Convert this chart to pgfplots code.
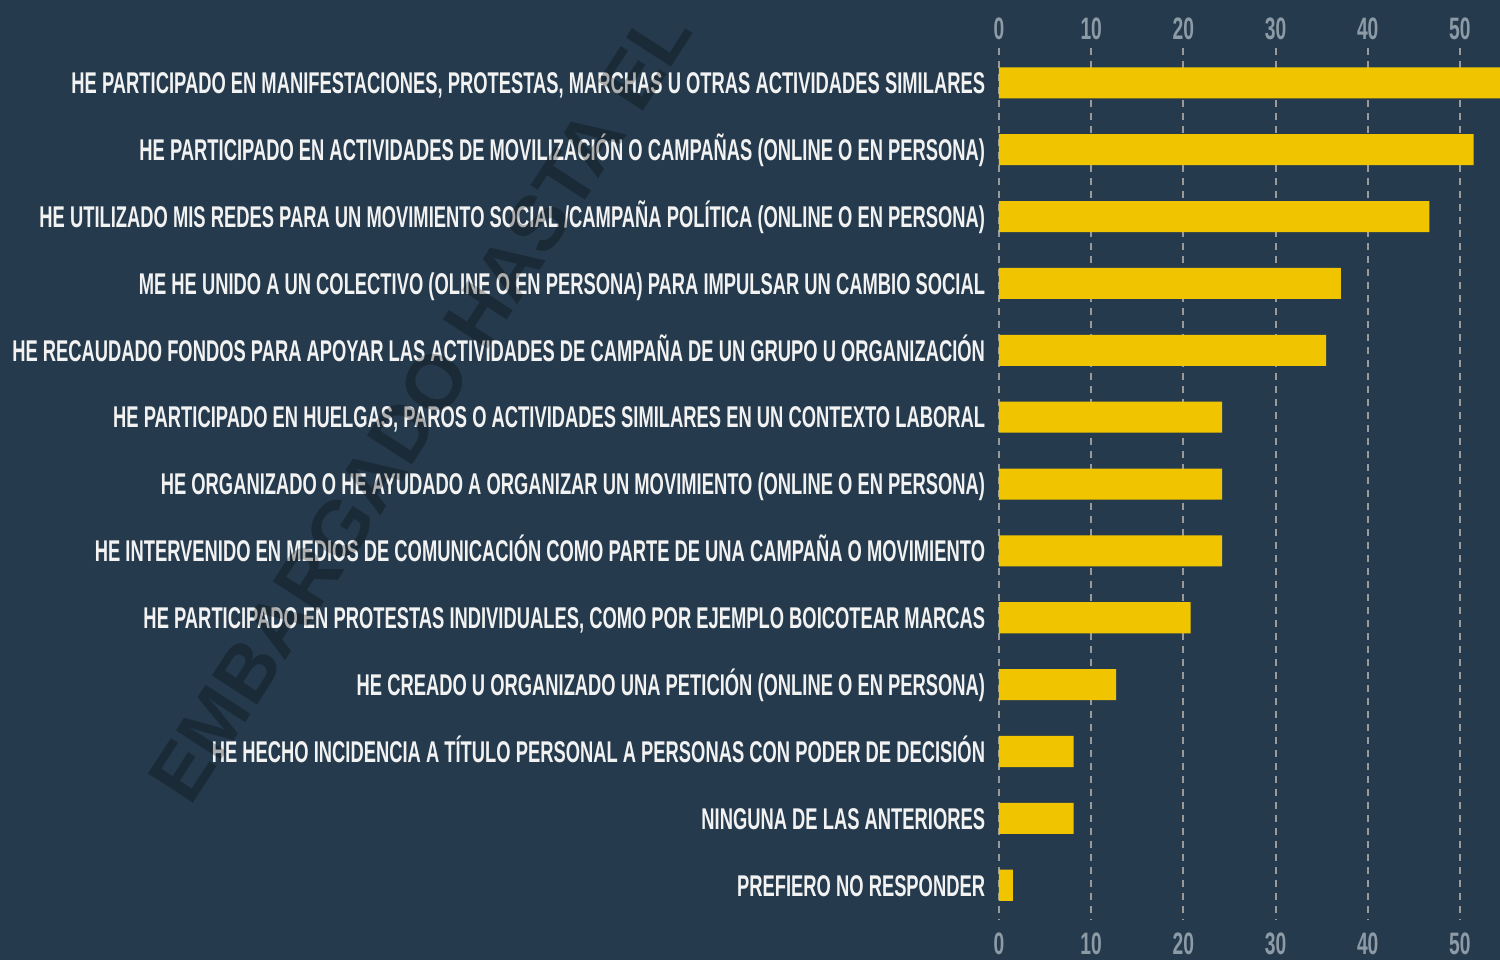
\documentclass[border=0pt]{standalone}
\usepackage{fontspec}
\setmainfont{Liberation Sans}
\newfontfamily\condfont{Liberation Sans}[FakeStretch=0.612]
\newfontfamily\tickfont{Liberation Sans}[FakeStretch=0.62]
\usepackage{pgfplots}
\pgfplotsset{compat=1.18}
\definecolor{bgc}{HTML}{253B4D}
\definecolor{barc}{HTML}{F0C500}
\definecolor{tickc}{HTML}{8D9BA6}
\definecolor{gridc}{HTML}{9A9A9A}
\definecolor{labc}{HTML}{F2F2F2}
\begin{document}
\begin{tikzpicture}
\path[use as bounding box] (0,0) rectangle (750pt,-480pt);
\fill[bgc] (0,0) rectangle (750pt,-480pt);
\begin{axis}[
  at={(499.5pt,-24pt)}, anchor=north west,
  width=250.5pt, height=436pt, scale only axis,
  xmin=0, xmax=54.35, ymin=-0.52, ymax=12.52, y dir=reverse,
  xbar, bar width=0.464,
  axis line style={draw=none}, tick style={draw=none},
  xtick={0,10,20,30,40,50}, ytick={0,...,12},
  xticklabel pos=lower,
  xmajorgrids, grid style={gridc, line width=1pt, dash pattern=on 3.5pt off 3pt},
  /pgf/number format/assume math mode=true,
  xticklabel style={font=\tickfont\bfseries\fontsize{15.5}{16}\selectfont, text=tickc, inner sep=0pt, yshift=-6pt},
  yticklabel style={font=\condfont\bfseries\fontsize{15}{16}\selectfont, text=labc, inner sep=0pt, anchor=base east, xshift=-2.5pt, yshift=-5.4pt},
  yticklabels={
    {HE PARTICIPADO EN MANIFESTACIONES, PROTESTAS, MARCHAS U OTRAS ACTIVIDADES SIMILARES},
    {HE PARTICIPADO EN ACTIVIDADES DE MOVILIZACIÓN O CAMPAÑAS (ONLINE O EN PERSONA)},
    {HE UTILIZADO MIS REDES PARA UN MOVIMIENTO SOCIAL /CAMPAÑA POLÍTICA (ONLINE O EN PERSONA)},
    {ME HE UNIDO A UN COLECTIVO (OLINE O EN PERSONA) PARA IMPULSAR UN CAMBIO SOCIAL},
    {HE RECAUDADO FONDOS PARA APOYAR LAS ACTIVIDADES DE CAMPAÑA DE UN GRUPO U ORGANIZACIÓN},
    {HE PARTICIPADO EN HUELGAS, PAROS O ACTIVIDADES SIMILARES EN UN CONTEXTO LABORAL},
    {HE ORGANIZADO O HE AYUDADO A ORGANIZAR UN MOVIMIENTO (ONLINE O EN PERSONA)},
    {HE INTERVENIDO EN MEDIOS DE COMUNICACIÓN COMO PARTE DE UNA CAMPAÑA O MOVIMIENTO},
    {HE PARTICIPADO EN PROTESTAS INDIVIDUALES, COMO POR EJEMPLO BOICOTEAR MARCAS},
    {HE CREADO U ORGANIZADO UNA PETICIÓN (ONLINE O EN PERSONA)},
    {HE HECHO INCIDENCIA A TÍTULO PERSONAL A PERSONAS CON PODER DE DECISIÓN},
    {NINGUNA DE LAS ANTERIORES},
    {PREFIERO NO RESPONDER}},
]
\addplot[fill=barc, draw=none] coordinates {
  (56,0) (51.5,1) (46.7,2) (37.1,3) (35.5,4) (24.2,5) (24.2,6) (24.2,7)
  (20.8,8) (12.7,9) (8.1,10) (8.1,11) (1.5,12)};
\end{axis}
\begin{axis}[
  at={(499.5pt,-24pt)}, anchor=north west,
  width=250.5pt, height=436pt, scale only axis,
  xmin=0, xmax=54.35, ymin=-0.52, ymax=12.52, y dir=reverse,
  axis line style={draw=none}, tick style={draw=none},
  xtick={0,10,20,30,40,50}, ytick=\empty,
  xticklabel pos=upper,
  /pgf/number format/assume math mode=true,
  xticklabel style={font=\tickfont\bfseries\fontsize{15.5}{16}\selectfont, text=tickc, inner sep=0pt, yshift=4pt},
]
\end{axis}
\node[rotate=57, font=\bfseries\fontsize{39}{39}\selectfont, text=black, opacity=0.28, inner sep=0pt] at (210pt,-202.5pt) {EMBARGADO HASTA EL};
\end{tikzpicture}
\end{document}
